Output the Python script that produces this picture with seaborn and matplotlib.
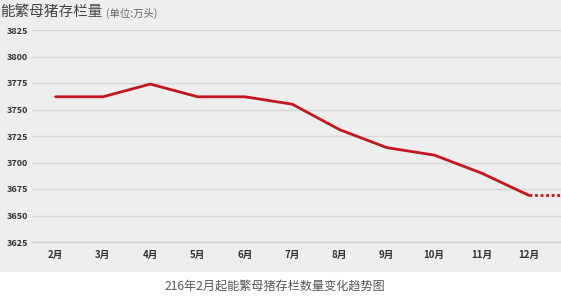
import matplotlib
matplotlib.use("Agg")
import matplotlib.pyplot as plt
import seaborn as sns
import pandas as pd
import numpy as np
from matplotlib.patches import Rectangle

months = ["2月", "3月", "4月", "5月", "6月", "7月", "8月", "9月", "10月", "11月", "12月"]
values = [3762, 3762, 3774, 3762, 3762, 3755, 3731, 3714, 3707, 3690, 3669]
yticks = [3625, 3650, 3675, 3700, 3725, 3750, 3775, 3800, 3825]
title = "能繁母猪存栏量"
unit = "(单位:万头)"
caption = "216年2月起能繁母猪存栏数量变化趋势图"

sns.set_theme(style="white")
plt.rcParams['font.family'] = ['Noto Sans CJK SC', 'DejaVu Sans']

W, H = 561, 296
fig = plt.figure(figsize=(W / 100, H / 100), dpi=100)
fig.patch.set_facecolor("white")
fig.patches.append(Rectangle((0, 1 - 272 / H), 1, 272 / H, transform=fig.transFigure,
                             facecolor="#eeeeee", edgecolor="none", zorder=-10))

ax_left, ax_top, ax_bottom = 32, 30, 242
ax = fig.add_axes([ax_left / W, 1 - ax_bottom / H, (W - ax_left) / W, (ax_bottom - ax_top) / H])
ax.set_facecolor("none")

df = pd.DataFrame({"month": months, "value": values})
sns.lineplot(data=df, x="month", y="value", ax=ax, color="#c4161c", linewidth=2, sort=False, zorder=3)

xmax = 10.68
ax.plot([len(months) - 1, xmax], [values[-1], values[-1]], color="#c4161c",
        linewidth=2, linestyle=(0, (1, 1)), zorder=3, clip_on=False)

ax.set_xlim(-0.5, xmax)
ax.set_ylim(3625, 3825)
ax.set_yticks(yticks)
ax.set_yticklabels([str(v) for v in yticks], fontsize=6.5, fontweight="bold", color="#333333")
ax.set_xticks(range(len(months)))
ax.set_xticklabels(months, fontsize=7, fontweight="bold", color="#333333")
ax.set_xticks(np.arange(0.5, len(months), 1), minor=True)
ax.tick_params(axis="x", which="major", length=0, pad=6)
ax.tick_params(axis="x", which="minor", length=3, color="#cccccc", width=1, direction="out")
ax.tick_params(axis="y", length=0, pad=3)
ax.set_xlabel("")
ax.set_ylabel("")
ax.grid(axis="y", color="#d6d6d6", linewidth=1)
for s in ["top", "right", "left"]:
    ax.spines[s].set_visible(False)
ax.spines["bottom"].set_color("#cccccc")
ax.spines["bottom"].set_linewidth(1)

fig.text(0 / W, 1 - 12 / H, title, fontsize=10.5, color="#444444", va="center", ha="left")
fig.text(106 / W, 1 - 13 / H, unit, fontsize=7.5, color="#666666", va="center", ha="left")
fig.text(275 / W, 1 - 286 / H, caption, fontsize=8.7, color="#555555", va="center", ha="center")

fig.savefig("out.png", dpi=100)
